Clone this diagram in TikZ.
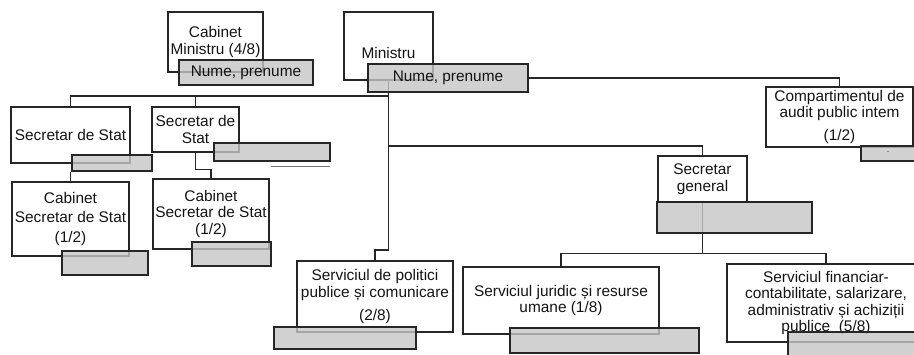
\documentclass[tikz,border=0pt]{standalone}
\usepackage{fontspec}
\setmainfont{Liberation Sans}
\usetikzlibrary{calc}
\tikzset{
  orgbox/.style 2 args={draw=black!85, line width=1.4pt, fill=white, align=center,
    text=black!92, inner sep=1pt, minimum width=#1pt, minimum height=#2pt,
    font=\fontsize{15.4}{16.6}\selectfont},
  namebox/.style 2 args={draw=black!85, line width=1.4pt, fill=gray!45, fill opacity=0.8,
    text opacity=1, text=black!92, inner sep=0pt, minimum width=#1pt, minimum height=#2pt,
    font=\fontsize{15.4}{16.6}\selectfont},
  link/.style={line width=1.3pt, draw=black!85}
}
\begin{document}
\begin{tikzpicture}[x=1pt,y=-1pt]
\clip (0,0) rectangle (914,354);
\fill[white] (0,0) rectangle (914,354);
% white boxes
\node[orgbox={95}{60}]  (cm)   at (215.5,42)  {Cabinet\\Ministru (4/8)};
\node[orgbox={89}{68}]  (min)  at (388.5,46)  {\raisebox{-7pt}[\height][\depth]{Ministru}};
\node[orgbox={119}{56}] (ss1)  at (70.5,135)  {Secretar de Stat};
\node[orgbox={87}{45}]  (ss2)  at (195.5,129.5) {Secretar de\\Stat};
\node[orgbox={117}{74}] (cab1) at (70.5,219)  {Cabinet\\[2pt]Secretar de Stat\\[3pt](1/2)};
\node[orgbox={116}{70}] (cab2) at (211,214)   {Cabinet\\Secretar de Stat\\(1/2)};
\node[orgbox={156}{71}] (sp)   at (375,296.5) {Serviciul de politici\\publice și comunicare\\[6pt](2/8)};
\node[orgbox={147}{60}] (comp) at (839.5,117) {Compartimentul de\\audit public intem\\[6pt](1/2)};
\node[orgbox={89}{46}]  (sg)   at (702.5,179) {Secretar\\general};
\node[orgbox={196}{67}] (sj)   at (561,300.5) {Serviciul juridic și resurse\\umane (1/8)};
\node[orgbox={198}{78}] (sf)   at (826,303)   {Serviciul financiar-\\contabilitate, salarizare,\\administrativ și achiziții\\publice\ \ (5/8)};
% connectors
\coordinate (top)  at (min.south |- 0,96);
\coordinate (mid)  at (min.south |- 0,146);
\coordinate (low)  at (min.south |- 0,250);
\draw[link] (min.south) -- (low) -| (sp.north);
\draw[link] (ss1.north) |- (top);
\draw[link] (ss2.north) -- (ss2.north |- top);
\draw[link] (mid) -| (sg.north);
\draw[link] (ss2.south) -- ++(0,17) -| (cab2.north);
\draw[link] (sg.south) -- ++(0,51) coordinate (sgsplit);
\draw[link] (sj.north) |- (sgsplit) -| (sf.north);
% name boxes
\node[namebox={134}{25}] (cmg)   at (246,72.5)   {Nume, prenume};
\node[namebox={160}{28}] (ming)  at (448,78)     {Nume, prenume};
\node[namebox={80}{16}]  (ss1g)  at (112,163)    {};
\node[namebox={116}{18}] (ss2g)  at (272,152)    {};
\node[namebox={86}{24}]  (cab1g) at (105,263)    {};
\node[namebox={79}{24}]  (cab2g) at (231.5,254)  {};
\node[namebox={142}{22}] (spg)   at (345,338)    {};
\node[namebox={54}{15}, font=\fontsize{9}{9}\selectfont, text=black!55] (compg) at (888,153.5) {-};
\node[namebox={155}{31}] (sgg)   at (734.5,217.5) {};
\node[namebox={189}{25}] (sjg)   at (604.5,340.5) {};
\node[namebox={142}{28}] (sfg)   at (859,346)    {};
\draw[link] (ming.east) -| (comp.north);
\draw[link] (ss1g.south -| cab1.north) -- (cab1.north);
\draw[line width=1pt, black!55] (ss2g.south east) ++(-60,5) -- ++(59,0);
\end{tikzpicture}
\end{document}
